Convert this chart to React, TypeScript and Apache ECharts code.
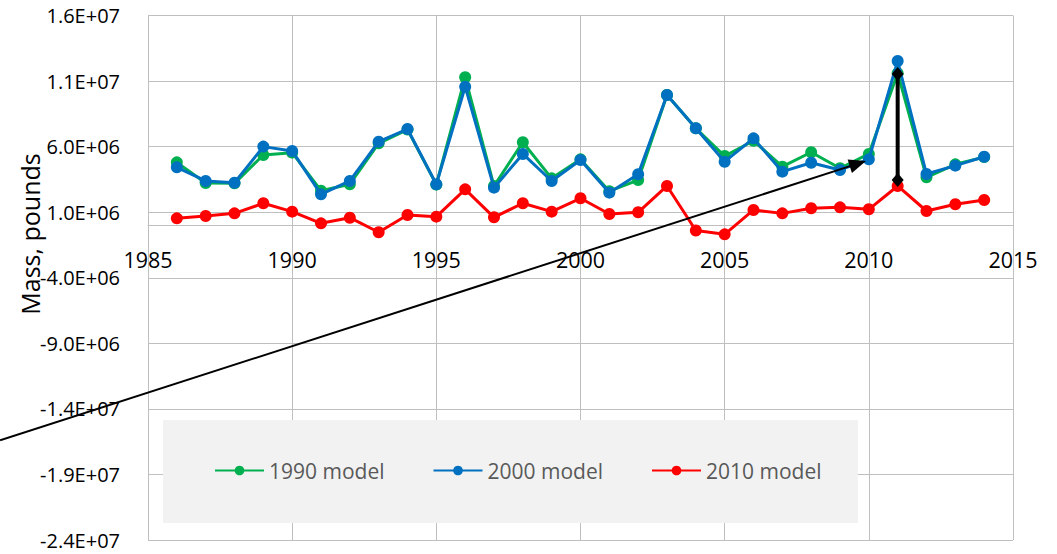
import React, { useEffect, useRef } from "react";
import * as echarts from "echarts";

const years = [
  1986, 1987, 1988, 1989, 1990, 1991, 1992, 1993, 1994, 1995, 1996, 1997, 1998, 1999, 2000,
  2001, 2002, 2003, 2004, 2005, 2006, 2007, 2008, 2009, 2010, 2011, 2012, 2013, 2014,
];

const model1990 = [
  4.8e6, 3.23e6, 3.2e6, 5.36e6, 5.54e6, 2.64e6, 3.13e6, 6.25e6, 7.3e6, 3.1e6, 11.29e6, 3.0e6,
  6.33e6, 3.58e6, 5.03e6, 2.6e6, 3.45e6, 9.94e6, 7.4e6, 5.28e6, 6.45e6, 4.47e6, 5.57e6, 4.35e6,
  5.44e6, 11.6e6, 3.66e6, 4.65e6, 5.2e6,
];

const model2000 = [
  4.42e6, 3.38e6, 3.25e6, 6.0e6, 5.67e6, 2.36e6, 3.38e6, 6.38e6, 7.34e6, 3.13e6, 10.57e6, 2.87e6,
  5.44e6, 3.38e6, 4.98e6, 2.49e6, 3.89e6, 9.94e6, 7.4e6, 4.85e6, 6.63e6, 4.09e6, 4.77e6, 4.22e6,
  5.03e6, 12.53e6, 3.91e6, 4.55e6, 5.23e6,
];

const model2010 = [
  0.53e6, 0.71e6, 0.91e6, 1.68e6, 1.04e6, 0.15e6, 0.58e6, -0.53e6, 0.79e6, 0.66e6, 2.74e6, 0.61e6,
  1.68e6, 1.04e6, 2.06e6, 0.86e6, 0.99e6, 3.0e6, -0.4e6, -0.69e6, 1.17e6, 0.91e6, 1.3e6, 1.37e6,
  1.22e6, 3.0e6, 1.09e6, 1.6e6, 1.93e6,
];

const seriesNames = ["1990 model", "2000 model", "2010 model"];
const seriesColors = ["#00B050", "#0070C0", "#FF0000"];

// annotation arrows in data coordinates
const longArrowStart = [1979.87, -16.4e6];
const longArrowEnd = [2009.9, 4.9e6];
const rangeArrowTop = [2011, 11.54e6];
const rangeArrowBottom = [2011, 3.45e6];

const FONT = "'Open Sans', 'Noto Sans', sans-serif";

function fmtExp(v: number): string {
  const s = v.toExponential(1);
  const [m, e] = s.split("e");
  const sign = e[0] === "-" ? "-" : "+";
  const n = Math.abs(parseInt(e, 10));
  return `${m}E${sign}${n < 10 ? "0" + n : n}`;
}

export default function App() {
  const ref = useRef<HTMLDivElement>(null);

  useEffect(() => {
    if (!ref.current) return;
    const chart = echarts.init(ref.current, null, { renderer: "svg" });
    const datasets = [model1990, model2000, model2010];

    const option: any = {
      animation: false,
      backgroundColor: "#ffffff",
      grid: {
        left: 148,
        right: 44,
        top: 15.5,
        bottom: 14,
        containLabel: false,
        outerBoundsMode: "none",
      },
      xAxis: {
        type: "value",
        min: 1985,
        max: 2015,
        interval: 5,
        position: "bottom",
        offset: 0,
        axisLine: { show: true, onZero: false, lineStyle: { color: "#BFBFBF", width: 1 } },
        axisTick: { show: false },
        splitLine: { show: true, lineStyle: { color: "#BFBFBF", width: 1 } },
        axisLabel: {
          color: "#000",
          fontSize: 21.5,
          fontFamily: FONT,
          margin: 23,
          formatter: (v: number) => String(v),
        },
      },
      yAxis: {
        type: "value",
        min: -24e6,
        max: 16e6,
        interval: 5e6,
        axisLine: { show: true, onZero: false, lineStyle: { color: "#BFBFBF", width: 1 } },
        axisTick: { show: false },
        splitLine: { show: true, lineStyle: { color: "#BFBFBF", width: 1 } },
        axisLabel: {
          color: "#000",
          fontSize: 20,
          fontFamily: FONT,
          margin: 28,
          formatter: (v: number) => fmtExp(v),
        },
      },
      legend: {
        data: seriesNames,
        orient: "horizontal",
        left: 214,
        top: 460,
        padding: 0,
        itemGap: 48,
        itemWidth: 49,
        itemHeight: 12,
        z: 10,
        textStyle: { color: "#595959", fontSize: 21, fontFamily: FONT, padding: [0, 0, 0, 0] },
      },
      series: seriesNames.map((name, i) => ({
        name,
        type: "line",
        data: years.map((y, j) => [y, datasets[i][j]]),
        symbol: "circle",
        symbolSize: 12,
        z: 2 + i,
        lineStyle: { color: seriesColors[i], width: 3 },
        itemStyle: { color: seriesColors[i] },
        emphasis: { disabled: true },
      })),
    };
    chart.setOption(option);

    const p = (c: number[]) => chart.convertToPixel({ gridIndex: 0 }, c) as number[];

    // move the x axis (line + labels) up to y = 0
    const zeroY = p([1985, 0])[1];
    const bottomY = p([1985, -24e6])[1];
    chart.setOption({ xAxis: { offset: zeroY - bottomY } });

    const a0 = p(longArrowStart);
    const a1 = p(longArrowEnd);
    const dx = a1[0] - a0[0];
    const dy = a1[1] - a0[1];
    const len = Math.sqrt(dx * dx + dy * dy);
    const ux = dx / len;
    const uy = dy / len;
    const headL = 17;
    const headW = 7;
    const base = [a1[0] - ux * headL, a1[1] - uy * headL];
    const head = [
      [a1[0], a1[1]],
      [base[0] - uy * headW, base[1] + ux * headW],
      [base[0] + uy * headW, base[1] - ux * headW],
    ];
    const t = p(rangeArrowTop);
    const b = p(rangeArrowBottom);
    const diamond = (c: number[]) => [
      [c[0], c[1] - 7],
      [c[0] + 6, c[1]],
      [c[0], c[1] + 7],
      [c[0] - 6, c[1]],
    ];

    chart.setOption({
      graphic: [
        {
          type: "rect",
          z: 5,
          shape: { x: 163, y: 420, width: 695, height: 103 },
          style: { fill: "#F2F2F2" },
        },
        {
          type: "text",
          z: 5,
          x: 30,
          y: 234,
          rotation: Math.PI / 2,
          style: {
            text: "Mass, pounds",
            fontSize: 25,
            fontFamily: FONT,
            fill: "#000",
            align: "center",
            verticalAlign: "middle",
            textAlign: "center",
            textVerticalAlign: "middle",
          },
        },
        {
          type: "line",
          z: 20,
          shape: { x1: a0[0], y1: a0[1], x2: base[0] + ux * 2, y2: base[1] + uy * 2 },
          style: { stroke: "#000", lineWidth: 2 },
        },
        {
          type: "polygon",
          z: 20,
          shape: { points: head },
          style: { fill: "#000" },
        },
        {
          type: "line",
          z: 20,
          shape: { x1: t[0], y1: t[1], x2: b[0], y2: b[1] },
          style: { stroke: "#000", lineWidth: 4 },
        },
        { type: "polygon", z: 21, shape: { points: diamond(t) }, style: { fill: "#000" } },
        { type: "polygon", z: 21, shape: { points: diamond(b) }, style: { fill: "#000" } },
      ],
    });

    return () => chart.dispose();
  }, []);

  return (
    <div
      ref={ref}
      style={{ position: "absolute", left: 0, top: 0, width: 1057, height: 554, background: "#fff" }}
    />
  );
}
